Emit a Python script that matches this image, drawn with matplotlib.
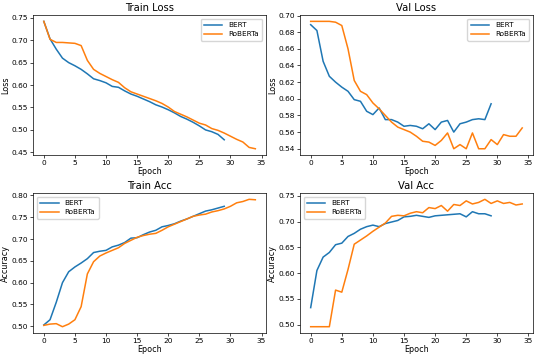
import matplotlib.pyplot as plt

bert_train_loss = [0.742, 0.703, 0.680, 0.660, 0.650, 0.643, 0.635, 0.625, 0.614, 0.610,
                   0.605, 0.597, 0.595, 0.587, 0.580, 0.575, 0.569, 0.563, 0.556, 0.551,
                   0.545, 0.538, 0.530, 0.524, 0.517, 0.509, 0.500, 0.496, 0.490, 0.478]
roberta_train_loss = [0.742, 0.702, 0.695, 0.695, 0.694, 0.693, 0.688, 0.655, 0.635, 0.626,
                      0.619, 0.612, 0.606, 0.594, 0.585, 0.580, 0.575, 0.570, 0.565, 0.559,
                      0.551, 0.541, 0.535, 0.529, 0.522, 0.515, 0.511, 0.503, 0.499, 0.493,
                      0.486, 0.479, 0.473, 0.461, 0.458]

bert_val_loss = [0.689, 0.682, 0.645, 0.627, 0.620, 0.614, 0.609, 0.599, 0.597, 0.585,
                 0.581, 0.589, 0.575, 0.575, 0.572, 0.567, 0.568, 0.567, 0.564, 0.570,
                 0.563, 0.572, 0.574, 0.560, 0.570, 0.572, 0.575, 0.576, 0.575, 0.594]
roberta_val_loss = [0.693, 0.693, 0.693, 0.693, 0.692, 0.688, 0.660, 0.622, 0.609, 0.605,
                    0.595, 0.588, 0.580, 0.572, 0.566, 0.563, 0.560, 0.555, 0.549, 0.548,
                    0.544, 0.550, 0.559, 0.540, 0.545, 0.540, 0.559, 0.540, 0.540, 0.551,
                    0.545, 0.557, 0.555, 0.555, 0.565]

bert_train_acc = [0.503, 0.515, 0.555, 0.600, 0.625, 0.636, 0.645, 0.655, 0.669, 0.672,
                  0.674, 0.682, 0.686, 0.692, 0.702, 0.703, 0.710, 0.716, 0.720, 0.728,
                  0.731, 0.735, 0.741, 0.746, 0.752, 0.758, 0.764, 0.767, 0.771, 0.775]
roberta_train_acc = [0.502, 0.505, 0.506, 0.499, 0.505, 0.515, 0.545, 0.620, 0.648, 0.661,
                     0.668, 0.674, 0.680, 0.690, 0.697, 0.704, 0.708, 0.711, 0.713, 0.720,
                     0.728, 0.734, 0.740, 0.746, 0.752, 0.755, 0.757, 0.762, 0.765, 0.769,
                     0.775, 0.783, 0.786, 0.791, 0.790]

bert_val_acc = [0.533, 0.605, 0.631, 0.640, 0.655, 0.658, 0.671, 0.677, 0.685, 0.690,
                0.693, 0.690, 0.696, 0.699, 0.702, 0.709, 0.710, 0.712, 0.710, 0.708,
                0.711, 0.712, 0.713, 0.714, 0.715, 0.709, 0.719, 0.715, 0.715, 0.711]
roberta_val_acc = [0.496, 0.496, 0.496, 0.496, 0.567, 0.563, 0.607, 0.656, 0.664, 0.672,
                   0.681, 0.689, 0.697, 0.710, 0.712, 0.711, 0.716, 0.719, 0.717, 0.727,
                   0.725, 0.731, 0.720, 0.733, 0.731, 0.740, 0.734, 0.737, 0.743, 0.735,
                   0.740, 0.735, 0.737, 0.732, 0.734]

panels = [
    ("Train Loss", "Loss", bert_train_loss, roberta_train_loss, "upper right"),
    ("Val Loss", "Loss", bert_val_loss, roberta_val_loss, "upper right"),
    ("Train Acc", "Accuracy", bert_train_acc, roberta_train_acc, "upper left"),
    ("Val Acc", "Accuracy", bert_val_acc, roberta_val_acc, "upper left"),
]

fig, axes = plt.subplots(2, 2, figsize=(5.36, 3.57), dpi=100)
fig.subplots_adjust(left=0.062, right=0.994, top=0.958, bottom=0.067, wspace=0.147, hspace=0.27)

for ax, (title, ylabel, bert, roberta, loc) in zip(axes.flat, panels):
    ax.plot(range(len(bert)), bert, label="BERT", color="#1f77b4", lw=1.1)
    ax.plot(range(len(roberta)), roberta, label="RoBERTa", color="#ff7f0e", lw=1.1)
    ax.set_title(title, fontsize=7.2, pad=3)
    ax.set_xlabel("Epoch", fontsize=5.8, labelpad=1)
    ax.set_ylabel(ylabel, fontsize=5.8, labelpad=1)
    ax.set_xticks(range(0, 36, 5))
    ax.tick_params(labelsize=5.3, length=2, width=0.5, pad=1.5)
    for s in ax.spines.values():
        s.set_linewidth(0.5)
    ax.legend(loc=loc, fontsize=5.2, handlelength=2.5, borderpad=0.5, labelspacing=0.4)

plt.savefig("out.png", dpi=100)
